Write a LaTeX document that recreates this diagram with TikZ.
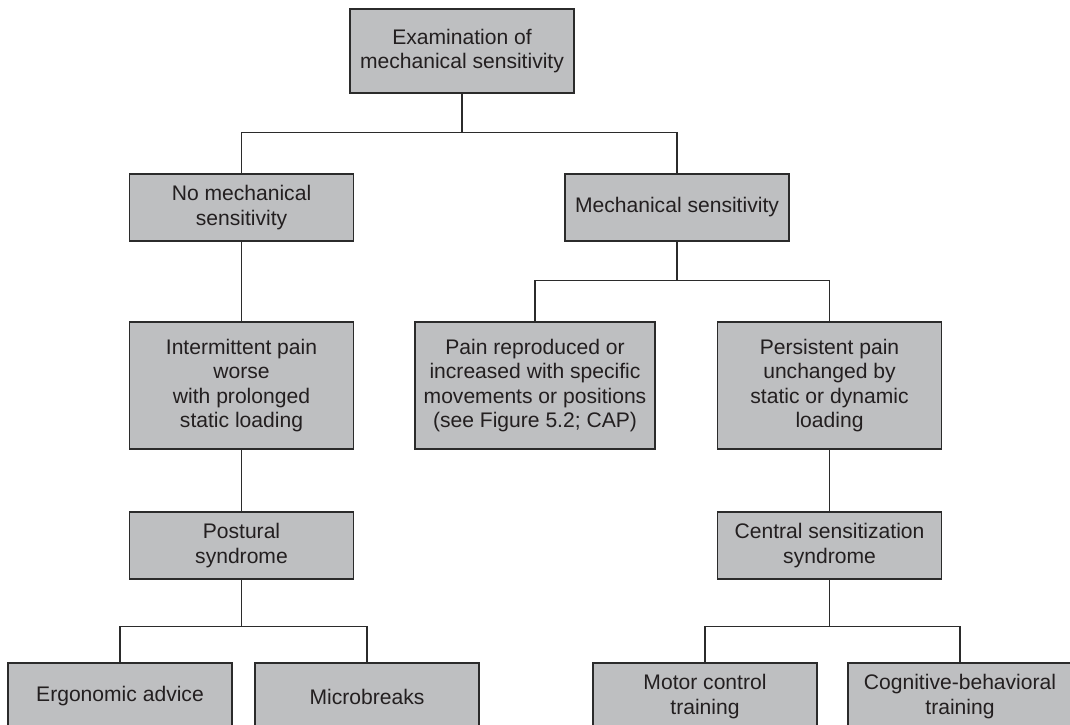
\documentclass[tikz,border=0pt]{standalone}
\usepackage{xcolor}
\usepackage{fontspec}
\setmainfont{Liberation Sans}
\usetikzlibrary{positioning}
\definecolor{boxfill}{HTML}{BEBFC1}
\definecolor{boxdraw}{HTML}{2B2B2B}
\definecolor{txtcol}{HTML}{231F20}
\tikzset{
  blk/.style={rectangle, draw=boxdraw, fill=boxfill, line width=0.8pt, align=center, font=\fontsize{12}{14}\selectfont, text=txtcol, inner sep=2pt, minimum width=4.48cm, minimum height=1.34cm},
  tall/.style={blk, minimum height=2.54cm},
  wire/.style={draw=boxdraw, line width=0.8pt},
}
\begin{document}
\begin{tikzpicture}[x=0.02cm, y=-0.02cm]
  \useasboundingbox (0,0) rectangle (1070,724);

  \node[blk, minimum height=1.68cm] (exam) at (462,51) {Examination of\\mechanical sensitivity};

  \node[blk] (nomech) at (241.5,207.5) {No mechanical\\sensitivity};
  \node[blk] (mech) at (677,207.5) {Mechanical sensitivity};

  \node[tall] (interm) at (241.5,385.5) {Intermittent pain\\worse\\with prolonged\\static loading};
  \node[tall, minimum width=4.8cm] (repro) at (535,385.5) {Pain reproduced or\\increased with specific\\movements or positions\\(see Figure 5.2; CAP)};
  \node[tall] (persist) at (829.5,385.5) {Persistent pain\\unchanged by\\static or dynamic\\loading};

  \node[blk] (postural) at (241.5,545.5) {Postural\\syndrome};
  \node[blk] (central) at (829.5,545.5) {Central sensitization\\syndrome};

  \node[blk] (ergo) at (120,696.5) {Ergonomic advice};
  \node[blk] (micro) at (367,696.5) {Microbreaks};
  \node[blk] (motor) at (705,696.5) {Motor control\\training};
  \node[blk] (cogn) at (960,696.5) {Cognitive-behavioral\\training};

  % tree connectors
  \draw[wire] (exam.south) -- ++(0,39) -| (nomech.north);
  \draw[wire] (exam.south) -- ++(0,39) -| (mech.north);
  \draw[wire] (nomech) -- (interm);
  \draw[wire] (interm) -- (postural);
  \draw[wire] (mech.south) -- ++(0,39) -| (repro.north);
  \draw[wire] (mech.south) -- ++(0,39) -| (persist.north);
  \draw[wire] (persist) -- (central);
  \draw[wire] (postural.south) -- ++(0,47) -| (ergo.north);
  \draw[wire] (postural.south) -- ++(0,47) -| (micro.north);
  \draw[wire] (central.south) -- ++(0,47) -| (motor.north);
  \draw[wire] (central.south) -- ++(0,47) -| (cogn.north);
\end{tikzpicture}
\end{document}
